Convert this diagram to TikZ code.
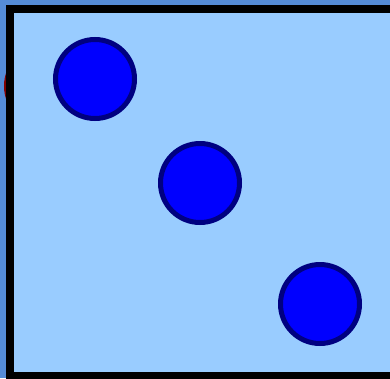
\documentclass[tikz,border=0pt]{standalone}
\usepackage{xcolor}
\definecolor{pagebg}{RGB}{85,140,215}
\definecolor{boardfill}{RGB}{153,204,255}
\definecolor{discfill}{RGB}{0,0,255}
\definecolor{discedge}{RGB}{0,0,128}
\definecolor{hiddenfill}{RGB}{220,0,0}
\definecolor{hiddenedge}{RGB}{128,0,0}
\begin{document}
\begin{tikzpicture}[
  x=1pt,y=-1pt,
  disc/.style={circle,draw=discedge,fill=discfill,line width=5pt,minimum size=79pt,inner sep=0pt},
  hiddendisc/.style={circle,draw=hiddenedge,fill=hiddenfill,line width=5pt,minimum size=79pt,inner sep=0pt}
]
\useasboundingbox (0,0) rectangle (390,378);
\fill[pagebg] (0,0) rectangle (390,378);
% disc lying under the board
\node[hiddendisc] (under) at (46,86) {};
% board
\draw[fill=boardfill,line width=8pt] (10,9) rectangle (400,376);
\node[disc] (first) at (95,79) {};
\node[disc] (second) at (200,183) {};
\node[disc] (third) at (320,304) {};
\end{tikzpicture}
\end{document}
